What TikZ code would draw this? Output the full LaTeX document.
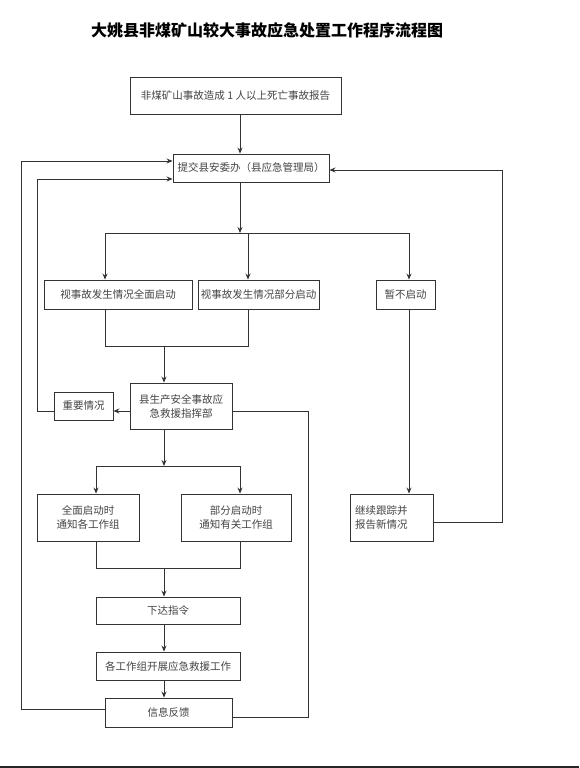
\documentclass[tikz,border=0pt]{standalone}
\usepackage{fontspec}
\setmainfont{Noto Sans CJK SC}
\usetikzlibrary{arrows.meta}
\definecolor{ln}{HTML}{333333}
\definecolor{tx}{HTML}{444444}
\tikzset{
  box/.style={draw=ln, line width=0.9pt, fill=white, text=tx, font=\fontsize{10.5}{14}\selectfont, align=center, inner sep=2pt},
  arr/.style={draw=ln, line width=0.9pt, -{Stealth[length=6pt,width=5pt]}},
  ln/.style={draw=ln, line width=0.9pt}
}
\begin{document}
\begin{tikzpicture}[x=1pt,y=-1pt]
\useasboundingbox (0,0) rectangle (579,768);
\fill[white] (0,0) rectangle (579,768);
\node[text=black, font=\fontsize{16}{18}\selectfont\bfseries] (title) at (267,30) {大姚县非煤矿山较大事故应急处置工作程序流程图};

\node[box, minimum width=211pt, minimum height=37pt] (top) at (235.5,95.5) {非煤矿山事故造成 1 人以上死亡事故报告};
\node[box, minimum width=156pt, minimum height=28pt] (sub) at (251,168) {提交县安委办（县应急管理局）};
\node[box, minimum width=148pt, minimum height=29pt] (full) at (118,294.5) {视事故发生情况全面启动};
\node[box, minimum width=121pt, minimum height=29pt] (part) at (258.5,294.5) {视事故发生情况部分启动};
\node[box, minimum width=59pt, minimum height=29pt] (none) at (405.5,294.5) {暂不启动};
\node[box, minimum width=102pt, minimum height=46pt] (hq) at (181,406) {县生产安全事故应\\急救援指挥部};
\node[box, minimum width=59pt, minimum height=28pt] (imp) at (83.5,406) {重要情况};
\node[box, minimum width=102pt, minimum height=47pt] (nfull) at (88,517.5) {全面启动时\\通知各工作组};
\node[box, minimum width=110pt, minimum height=47pt] (npart) at (236,517.5) {部分启动时\\通知有关工作组};
\node[box, minimum width=144pt, minimum height=27pt] (order) at (168,610.5) {下达指令};
\node[box, minimum width=144pt, minimum height=28pt] (work) at (168,666) {各工作组开展应急救援工作};
\node[box, minimum width=127pt, minimum height=29pt] (info) at (168.5,712.5) {信息反馈};
\node[box, minimum height=47pt, text width=73pt, align=left, inner xsep=5pt] (track) at (391.5,517.5) {继续跟踪并\\报告新情况};

% coordinates
\coordinate (xa) at (240,0);
\coordinate (j1) at (240,233);
\coordinate (j1l) at (105,233);
\coordinate (j1m) at (248,233);
\coordinate (j1r) at (409,233);
\coordinate (m1l) at (105,346);
\coordinate (m1r) at (248,346);
\coordinate (m1c) at (164,346);
\coordinate (j2) at (164,466);
\coordinate (j2l) at (96,466);
\coordinate (j2r) at (240,466);
\coordinate (m2l) at (96,568);
\coordinate (m2r) at (240,568);
\coordinate (m2c) at (164,568);
\coordinate (xc) at (164,0);
\coordinate (c1) at (21,709);
\coordinate (c2) at (21,161);
\coordinate (c3) at (37,411);
\coordinate (c4) at (37,179);
\coordinate (c5) at (308,411);
\coordinate (c6) at (308,717);
\coordinate (c7) at (502,522);
\coordinate (c8) at (502,170);

\draw[arr] (top.south -| xa) -- (sub.north -| xa);
\draw[arr] (sub.south -| xa) -- (j1);
\draw[ln] (j1l) -- (j1r);
\draw[arr] (j1l) -- (full.north -| j1l);
\draw[arr] (j1m) -- (part.north -| j1m);
\draw[arr] (j1r) -- (none.north -| j1r);
\draw[ln] (full.south -| m1l) -- (m1l) -- (m1r) -- (part.south -| m1r);
\draw[arr] (m1c) -- (hq.north -| m1c);
\draw[arr] (hq.west |- c3) -- (imp.east |- c3);
\draw[arr] (imp.west |- c3) -- (c3) -- (c4) -- (sub.west |- c4);
\draw[arr] (hq.south -| xc) -- (j2);
\draw[ln] (j2l) -- (j2r);
\draw[arr] (j2l) -- (nfull.north -| j2l);
\draw[arr] (j2r) -- (npart.north -| j2r);
\draw[ln] (nfull.south -| m2l) -- (m2l) -- (m2r) -- (npart.south -| m2r);
\draw[arr] (m2c) -- (order.north -| m2c);
\draw[arr] (order.south -| xc) -- (work.north -| xc);
\draw[arr] (work.south -| xc) -- (info.north -| xc);
\draw[arr] (info.west |- c1) -- (c1) -- (c2) -- (sub.west |- c2);
\draw[ln] (hq.east |- c5) -- (c5) -- (c6) -- (info.east |- c6);
\draw[arr] (none.south -| j1r) -- (track.north -| j1r);
\draw[arr] (track.east |- c7) -- (c7) -- (c8) -- (sub.east |- c8);

\fill[black!85] (0,765.5) rectangle (579,768);
\end{tikzpicture}
\end{document}
